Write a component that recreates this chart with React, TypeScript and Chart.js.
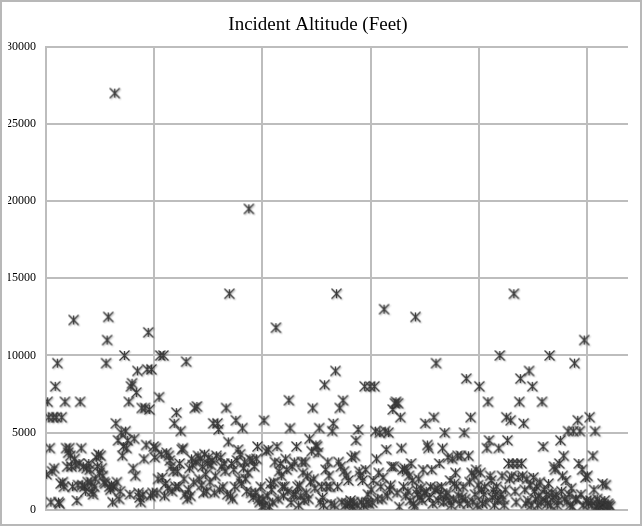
import React, { useEffect, useRef } from "react";
import { Chart, registerables } from "chart.js";

Chart.register(...registerables);

const chartTitle = "Incident Altitude (Feet)";
const yMin = 0;
const yMax = 30000;
const yStep = 5000;
const xMax = 538;
const xGridTicks = [0, 100, 200, 300, 400, 500];

// Altitudes in order of incident number (~100 per gridline section)
const altitudesSection1 = [
  2300, 7000, 6000, 4000, 500, 2500, 6000, 2700, 8000, 6000,
  9500, 500, 400, 1700, 6000, 1800, 1500, 7000, 4000, 2800,
  3700, 4000, 3500, 2800, 1500, 12300, 3300, 2900, 600, 1600,
  3000, 7000, 4000, 1600, 2800, 1500, 1200, 2700, 1800, 3000,
  2600, 1800, 1200, 1000, 1500, 2000, 3400, 2800, 3600, 2400,
  3500, 2700, 2200, 1800, 1700, 9500, 11000, 12500, 1500, 1300,
  1600, 500, 1500, 27000, 5600, 1800, 4500, 700, 1200, 5000,
  3500, 4100, 10000, 5100, 4000, 4500, 7000, 1000, 8000, 8200,
  2700, 4600, 2200, 7600, 9000, 1100, 800, 500, 6600, 1000,
  3300, 6600, 4200, 9100, 11500, 6500, 900, 9100, 1100, 4100,
];

const altitudesSection2 = [
  3400, 4000, 1100, 2000, 7300, 10000, 3600, 2100, 10000, 900,
  1700, 3700, 1400, 3500, 3200, 2800, 1200, 2500, 5600, 1500,
  6300, 2500, 1500, 3000, 5100, 3900, 4000, 2000, 1000, 9600,
  700, 1300, 2700, 900, 3300, 2900, 1800, 6600, 3100, 6700,
  3500, 2000, 3300, 1600, 2800, 1100, 3600, 2300, 1200, 3000,
  3400, 1800, 2900, 3200, 5600, 1100, 2200, 3500, 5600, 5200,
  1300, 3400, 2800, 1500, 3000, 2500, 6600, 1000, 4400, 14000,
  900, 3000, 700, 2600, 1500, 5800, 3200, 3900, 2000, 3600,
  1700, 5300, 2700, 3100, 2000, 1200, 2400, 19500, 3300, 1100,
  3200, 800, 2800, 1100, 3300, 4100, 700, 500, 1500, 200,
];

const altitudesSection3 = [
  700, 5800, 300, 3800, 900, 3900, 200, 1700, 1300, 500,
  1800, 3100, 11800, 4100, 700, 2500, 3000, 2200, 1500, 900,
  1500, 3300, 2600, 1200, 7100, 5300, 470, 2800, 1000, 3100,
  1000, 4100, 1500, 300, 1600, 900, 3100, 2400, 600, 3100,
  1100, 2200, 700, 4600, 1800, 3800, 6600, 2000, 1400, 4200,
  4100, 3700, 5300, 500, 1500, 800, 300, 8100, 2600, 1500,
  3100, 2200, 1500, 400, 5100, 5600, 300, 9000, 14000, 1500,
  3100, 6600, 2800, 500, 7100, 2500, 300, 2200, 400, 1900,
  400, 600, 3400, 200, 500, 3500, 4500, 300, 5200, 2500,
  2200, 500, 1900, 300, 8000, 2600, 500, 1000, 400, 8000,
];

const altitudesSection4 = [
  1300, 470, 1900, 8000, 5100, 3300, 700, 2400, 5000, 1500,
  700, 2100, 13000, 5100, 3900, 900, 5000, 1300, 1600, 2800,
  6500, 2800, 6900, 7000, 1100, 6900, 200, 6000, 4000, 2600,
  1500, 2700, 900, 2500, 1200, 2200, 600, 3000, 1900, 400,
  200, 12500, 1300, 1000, 2000, 800, 1400, 600, 2600, 1100,
  5600, 1200, 4200, 4000, 800, 1500, 2600, 400, 6000, 1300,
  9500, 1400, 600, 3000, 1000, 1500, 4000, 500, 5000, 900,
  1100, 3400, 600, 1900, 300, 3300, 700, 1700, 2400, 1500,
  3500, 900, 400, 3500, 800, 1500, 5000, 700, 8500, 400,
  3500, 1800, 6000, 2400, 500, 2200, 1000, 2600, 300, 1600,
];

const altitudesSection5 = [
  8000, 2400, 1300, 400, 1000, 1500, 500, 4000, 7000, 4500,
  2200, 1900, 800, 1300, 300, 1000, 1500, 600, 4000, 10000,
  1000, 2200, 700, 300, 1300, 6000, 4500, 3000, 2000, 5800,
  2200, 3000, 14000, 1200, 500, 3000, 2100, 7000, 8500, 3000,
  2200, 5600, 1300, 400, 2000, 600, 9000, 1600, 300, 8000,
  2100, 1200, 700, 1500, 300, 900, 1800, 500, 7000, 4100,
  1300, 600, 1000, 400, 1700, 10000, 300, 1100, 800, 2800,
  2600, 1000, 300, 600, 3000, 4500, 1200, 2200, 3500, 700,
  1900, 500, 5100, 1000, 300, 1400, 200, 5100, 9500, 700,
  700, 5800, 3000, 5100, 1000, 2600, 300, 11000, 2100, 600,
];

const altitudesSection6 = [
  2200, 400, 6000, 600, 300, 3500, 1300, 5100, 200, 700,
  300, 500, 200, 400, 1700, 300, 600, 1600, 200, 400, 300, 200,
];

const altitudes = [
  ...altitudesSection1,
  ...altitudesSection2,
  ...altitudesSection3,
  ...altitudesSection4,
  ...altitudesSection5,
  ...altitudesSection6,
];

function makeMarker(): HTMLCanvasElement {
  const c = document.createElement("canvas");
  c.width = 15;
  c.height = 15;
  const ctx = c.getContext("2d")!;
  ctx.shadowColor = "rgba(0,0,0,0.3)";
  ctx.shadowBlur = 1.5;
  ctx.shadowOffsetX = 1;
  ctx.shadowOffsetY = 1;
  ctx.strokeStyle = "#3a3a3a";
  ctx.lineWidth = 1.3;
  ctx.beginPath();
  ctx.moveTo(2.5, 2.5);
  ctx.lineTo(12.5, 12.5);
  ctx.moveTo(12.5, 2.5);
  ctx.lineTo(2.5, 12.5);
  ctx.moveTo(7.5, 3);
  ctx.lineTo(7.5, 12);
  ctx.stroke();
  return c;
}

export default function App() {
  const canvasRef = useRef<HTMLCanvasElement | null>(null);

  useEffect(() => {
    if (!canvasRef.current) return;
    const marker = makeMarker();
    const gridColor = "#bdbdbd";
    const chart = new Chart(canvasRef.current, {
      type: "scatter",
      data: {
        datasets: [
          {
            data: altitudes.map((v, i) => ({ x: i + 0.5, y: v })),
            pointStyle: marker as any,
            pointRadius: 5,
            showLine: false,
          },
        ],
      },
      options: {
        animation: false,
        responsive: false,
        layout: { padding: { left: 8, right: 15, top: 0, bottom: 13 } },
        plugins: {
          legend: { display: false },
          tooltip: { enabled: false },
          title: {
            display: true,
            text: chartTitle,
            color: "#000",
            font: { family: "Liberation Serif", size: 19, weight: "normal" },
            padding: { top: 14, bottom: 10 },
          },
        },
        scales: {
          x: {
            type: "linear",
            min: 0,
            max: xMax,
            afterBuildTicks: (s: any) => {
              s.ticks = xGridTicks.map((v) => ({ value: v }));
            },
            afterFit: (s: any) => {
              s.height = 0;
            },
            ticks: { display: false },
            grid: { color: gridColor, lineWidth: 2, drawTicks: false },
            border: { display: false },
          },
          y: {
            min: yMin,
            max: yMax,
            afterFit: (s: any) => {
              s.width = 38;
            },
            ticks: {
              stepSize: yStep,
              padding: 10,
              color: "#000",
              font: { family: "Liberation Serif", size: 12 },
              callback: (v: any) => String(v),
            },
            grid: { color: gridColor, lineWidth: 2, drawTicks: false },
            border: { display: true, color: gridColor, width: 2 },
          },
        },
      },
    });
    return () => chart.destroy();
  }, []);

  return (
    <div
      style={{
        position: "fixed",
        left: 0,
        top: 0,
        width: 643,
        height: 527,
        background: "#fff",
      }}
    >
      <canvas ref={canvasRef} width={643} height={527} style={{ display: "block" }} />
      <div
        style={{
          position: "absolute",
          left: 0,
          top: 0,
          width: 642,
          height: 526,
          boxSizing: "border-box",
          border: "2px solid #b8b8b8",
          pointerEvents: "none",
        }}
      />
    </div>
  );
}
